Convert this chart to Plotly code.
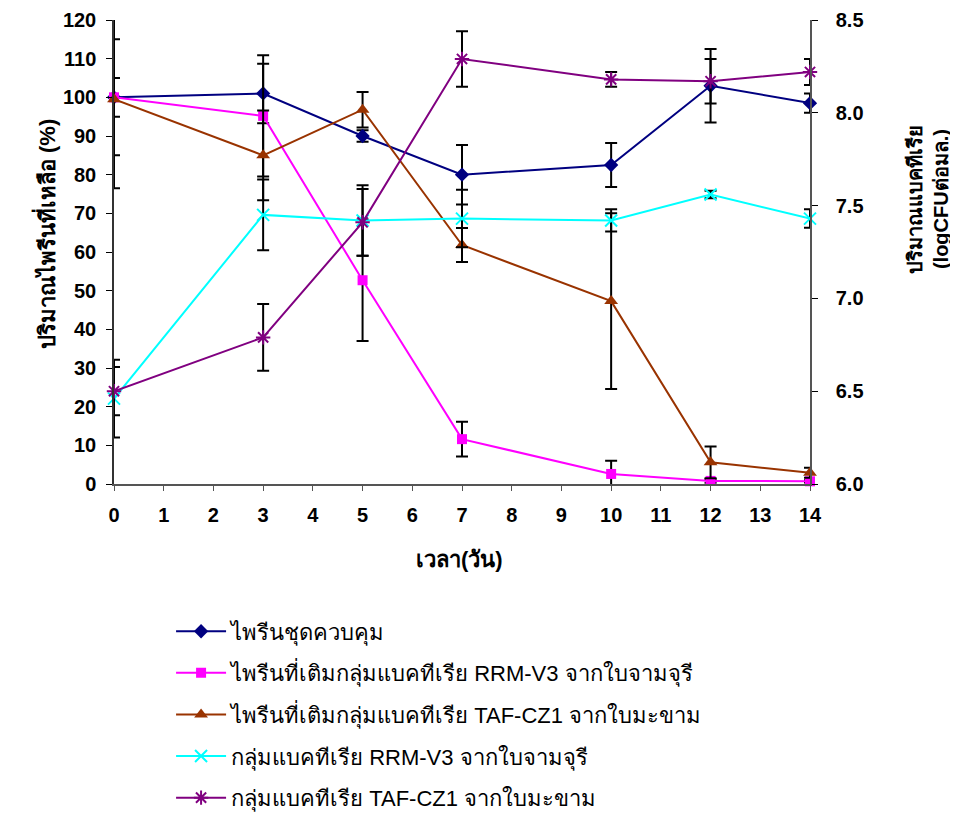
import plotly.graph_objects as go

days = [0, 3, 5, 7, 10, 12, 14]

# pyrene remaining (%)
control = [100, 101, 90, 80, 82.5, 103, 98.5]
control_err = [15, 7.7, 1.5, 7.7, 5.7, 9.5, 2.5]
rrm_pyr = [100, 95.2, 52.7, 11.6, 2.6, 0.8, 0.7]
rrm_pyr_err = [5, 15.7, 15.7, 4.5, 3.4, 0.5, 0.3]
taf_pyr = [99.5, 85, 96.8, 61.8, 47.3, 5.6, 2.9]
taf_pyr_err = [23, 11.6, 4.6, 4.4, 22.7, 4.1, 1.3]

# bacteria (logCFU)
rrm_bac = [6.46, 7.45, 7.42, 7.43, 7.42, 7.56, 7.43]
rrm_bac_err = [0.21, 0.19, 0.19, 0.155, 0.06, 0.02, 0.05]
taf_bac = [6.50, 6.79, 7.41, 8.29, 8.18, 8.17, 8.22]
taf_bac_err = [0.13, 0.18, 0.18, 0.15, 0.04, 0.12, 0.07]

names = [
    "ไพรีนชุดควบคุม",
    "ไพรีนที่เติมกลุ่มแบคทีเรีย RRM-V3 จากใบจามจุรี",
    "ไพรีนที่เติมกลุ่มแบคทีเรีย TAF-CZ1 จากใบมะขาม",
    "กลุ่มแบคทีเรีย RRM-V3 จากใบจามจุรี",
    "กลุ่มแบคทีเรีย TAF-CZ1 จากใบมะขาม",
]

FONT = "Liberation Sans, Arial, Noto Sans, sans-serif"

def eb(arr):
    return dict(type="data", array=arr, visible=True, color="black", thickness=2, width=6)

fig = go.Figure()
specs = [
    (control, control_err, "#000080", "diamond", 11, "y", 0),
    (rrm_pyr, rrm_pyr_err, "#FF00FF", "square", 10, "y", 0),
    (taf_pyr, taf_pyr_err, "#993300", "triangle-up", 12, "y", 0),
    (rrm_bac, rrm_bac_err, "#00FFFF", "x-thin-open", 12, "y2", 2),
    (taf_bac, taf_bac_err, "#800080", "asterisk-open", 12, "y2", 2),
]
for i, (vals, err, col, sym, sz, ax, lw) in enumerate(specs):
    marker = dict(symbol=sym, size=sz, color=col)
    if lw:
        marker["line"] = dict(color=col, width=lw)
    fig.add_trace(go.Scatter(
        x=days, y=vals, yaxis=ax, name=names[i], mode="lines+markers",
        line=dict(color=col, width=2), marker=marker, error_y=eb(err),
        legendgroup=f"g{i}", cliponaxis=False,
    ))

tickfont = dict(family=FONT, size=20, color="black", weight="bold")
titlefont = dict(family=FONT, size=22, color="black", weight="bold")
rtitlefont = dict(family=FONT, size=20, color="black", weight="bold")

fig.update_layout(
    width=950, height=812,
    margin=dict(l=106, r=148, t=12, b=336, autoexpand=False),
    paper_bgcolor="white", plot_bgcolor="white",
    font=dict(family=FONT, color="black"),
    xaxis=dict(range=[0, 14], tickmode="linear", dtick=1, tick0=0,
               showgrid=False, zeroline=False, showline=True, linecolor="#555555", linewidth=1.5,
               ticks="outside", ticklen=5, tickcolor="#555555", tickfont=tickfont,
               ticklabelstandoff=7),
    yaxis=dict(range=[0, 120], dtick=10, showgrid=False, zeroline=False,
               showline=True, linecolor="#333333", linewidth=1.5,
               ticks="outside", ticklen=6, tickcolor="black", tickfont=tickfont,
               ticklabelstandoff=6, ticklabeloverflow="allow"),
    yaxis2=dict(range=[6.0, 8.5], dtick=0.5, tickformat=".1f", overlaying="y", side="right",
                showgrid=False, zeroline=False, showline=True, linecolor="#555555", linewidth=1.5,
                ticks="outside", ticklen=6, tickcolor="black", tickfont=tickfont,
                ticklabelstandoff=14, ticklabeloverflow="allow"),
    showlegend=True,
    legend=dict(x=0.082, y=-0.2725, xanchor="left", yanchor="top",
                font=dict(family=FONT, size=22, color="black"),
                traceorder="grouped", tracegroupgap=10, itemwidth=50,
                bgcolor="rgba(0,0,0,0)"),
    annotations=[
        dict(text="ปริมาณไพรีนที่เหลือ (%)", xref="paper", yref="paper", x=-0.0991, y=0.5386,
             xanchor="center", yanchor="middle",
             textangle=-90, showarrow=False, font=titlefont),
        dict(text="ปริมาณแบคทีเรีย<br>(logCFUต่อมล.)", xref="paper", yref="paper", x=1.170, y=0.6137,
             xanchor="center", yanchor="middle",
             textangle=-90, showarrow=False, font=rtitlefont),
        dict(text="เวลา(วัน)", xref="paper", yref="paper", x=0.497, y=-0.163,
             xanchor="center", yanchor="middle",
             showarrow=False, font=titlefont),
    ],
)

fig.write_html("out.html")
